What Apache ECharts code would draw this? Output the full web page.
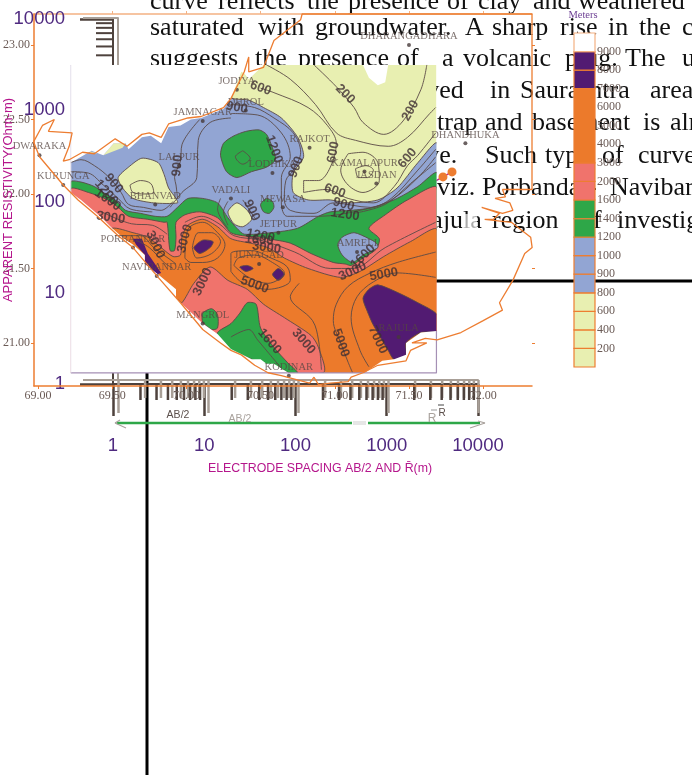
<!DOCTYPE html>
<html><head><meta charset="utf-8">
<style>html,body{margin:0;padding:0;background:#fff}#c{width:692px;height:775px}</style>
<script src="https://cdn.jsdelivr.net/npm/echarts@6/dist/echarts.min.js"></script>
</head><body><div id="c"></div>
<script>
// ---------- tick labels ----------
const lonTicks=[69,69.5,70,70.5,71,71.5,72];
const latTicks=[21,21.5,22,22.5,23];
const logMinor=[2,3,4,5,6,7,8,9,20,30,40,50,60,70,80,90,200,300,400,500,600,700,800,900,2000,3000,4000,5000,6000,7000,8000,9000];
const levels=[200,400,600,800,900,1000,1200,1400,1600,2000,3000,4000,5000,6000,7000,8000,9000];
// colour bar bands: [from level index, to level index]
const bandYellow=[[0,1],[1,2],[2,3],[3,4]];
const bandBlue=[[4,5],[5,6],[6,7]];
const bandGreen=[[7,8],[8,9]];
const bandSalmon=[[9,10],[10,11]];
const bandOrange=[[11,15]];
const bandPurple=[[15,16],[16,17]];
const bandWhite=[[17,18]];
// ---------- towns ----------
const townNames=['JODIYA','DHROL','JAMNAGAR','DWARAKA','KURUNGA','LALPUR','BHANVAD','VADALI','LODHIKA','RAJKOT','KAMALAPUR','JASDAN','MEWASA','JETPUR','AMRELI','JUNAGAD','PORBANDAR','NAVIBANDAR','MANGROL','KODINAR','RAJULA','DHARANGADHARA','DHANDHUKA'];
const townLon=[70.34,70.40,70.11,69.01,69.17,69.95,69.79,70.30,70.58,70.83,71.20,71.28,70.65,70.62,71.15,70.49,69.64,69.80,70.11,70.69,71.43,71.50,71.88];
const townLat=[22.70,22.56,22.49,22.26,22.06,22.19,21.93,21.97,22.14,22.31,22.15,22.07,21.91,21.74,21.61,21.53,21.64,21.45,21.13,20.78,21.04,23.00,22.34];
// ---------- contour labels: lon, lat, value, angle ----------
const contourLabels=[[70.50,22.71,600,-20],[71.07,22.67,200,-45],[71.51,22.56,200,60],[70.99,22.28,600,80],[71.49,22.24,600,50],[71.00,22.02,600,-20],[71.06,21.93,900,-15],[71.07,21.86,1200,-8],[70.59,22.30,1200,-70],[70.74,22.18,900,70],[70.44,21.89,900,-65],[69.94,22.19,900,85],[70.34,22.58,900,-10],[69.51,22.07,900,-50],[69.46,22.01,1200,-50],[69.47,21.96,1600,-35],[69.49,21.84,3000,-8],[69.79,21.66,3000,-65],[69.99,21.70,3000,75],[70.11,21.41,3000,65],[70.46,21.39,5000,-20],[70.50,21.72,1200,-10],[70.49,21.69,1600,-5],[70.54,21.64,3000,-8],[71.19,21.58,1600,45],[71.12,21.48,3000,25],[71.33,21.46,5000,10],[70.56,21.01,1600,-50],[70.79,21.01,3000,-50],[71.04,21.00,5000,-70],[71.29,21.02,7000,-65]];
// ---------- colour regions (lon, lat) ----------
const mapRect=[[69.221,22.866],[71.685,22.866],[71.685,20.799],[69.221,20.799]];
const blueRegion=[[69.22,22.87],[70.30,22.87],[70.30,22.65],[70.42,22.63],[70.52,22.58],[70.64,22.51],[70.75,22.38],[70.79,22.25],[70.72,22.14],[70.72,22.01],[70.82,21.96],[70.97,21.96],[71.09,21.94],[71.29,21.96],[71.42,22.04],[71.56,22.21],[71.69,22.34],[71.69,21.56],[69.22,21.56]];
const greenRegion=[[69.22,22.08],[69.29,22.08],[69.38,22.05],[69.44,22.01],[69.52,21.96],[69.59,21.89],[69.69,21.87],[69.79,21.85],[69.87,21.85],[69.94,21.91],[70.01,21.97],[70.11,21.97],[70.21,21.94],[70.28,21.84],[70.34,21.77],[70.39,21.73],[70.57,21.74],[70.75,21.77],[70.89,21.85],[70.97,21.88],[71.11,21.89],[71.26,21.91],[71.42,21.97],[71.56,22.05],[71.69,22.14],[71.69,21.42],[69.22,21.42]];
const salmonRegion=[[69.22,22.03],[69.34,22.01],[69.47,21.96],[69.54,21.91],[69.61,21.85],[69.74,21.83],[69.85,21.81],[69.87,21.81],[69.89,21.62],[69.92,21.62],[69.93,21.71],[69.93,21.81],[69.99,21.86],[70.09,21.88],[70.21,21.84],[70.30,21.74],[70.38,21.72],[70.50,21.71],[70.55,21.70],[70.70,21.67],[70.84,21.60],[70.99,21.54],[71.07,21.53],[71.11,21.52],[71.19,21.57],[71.28,21.63],[71.30,21.70],[71.23,21.77],[71.34,21.86],[71.49,21.96],[71.69,22.04],[71.69,20.80],[69.22,20.80]];
const orangeRegion=[[69.50,21.77],[69.64,21.74],[69.74,21.71],[69.83,21.64],[69.91,21.58],[69.96,21.59],[69.97,21.71],[70.01,21.79],[70.11,21.83],[70.21,21.78],[70.30,21.70],[70.43,21.67],[70.55,21.64],[70.66,21.57],[70.82,21.50],[71.04,21.44],[71.17,21.48],[71.33,21.58],[71.51,21.68],[71.69,21.76],[71.69,20.80],[69.43,20.80],[69.43,21.69]];
const salmonPatch=[[70.16,21.51],[70.05,21.40],[69.97,21.27],[69.94,21.29],[69.90,20.80],[70.92,20.80],[70.89,20.97],[70.84,21.05],[70.66,21.17],[70.52,21.26],[70.41,21.36],[70.28,21.42]];
const greenSouth=[[70.41,21.27],[70.47,21.26],[70.50,21.10],[70.59,20.97],[70.68,20.87],[70.75,20.80],[70.69,20.80],[70.21,20.99],[70.21,21.07],[70.30,21.13],[70.36,21.20]];
const greenMangrol=[[70.11,21.20],[70.17,21.23],[70.21,21.19],[70.21,21.10],[70.17,21.09],[70.11,21.14]];
const greenLodhika=[[70.23,22.26],[70.25,22.34],[70.32,22.39],[70.40,22.42],[70.49,22.43],[70.54,22.40],[70.58,22.31],[70.60,22.23],[70.54,22.18],[70.44,22.15],[70.34,22.11],[70.27,22.15]];
const greenMewasa=[[70.50,21.93],[70.54,21.97],[70.58,21.95],[70.59,21.91],[70.56,21.87],[70.52,21.88]];
const yellowBhanvad=[[69.54,22.11],[69.61,22.18],[69.70,22.24],[69.81,22.21],[69.85,22.13],[69.88,22.04],[69.93,21.97],[69.94,21.94],[69.78,21.94],[69.64,21.97],[69.57,22.04]];
const yellowVadali=[[70.28,21.88],[70.34,21.94],[70.41,21.89],[70.44,21.83],[70.38,21.78],[70.32,21.80]];
const yellowCoastA=[[69.51,22.34],[69.59,22.34],[69.57,22.31],[69.44,22.26]];
const yellowCoastB=[[69.34,22.29],[69.40,22.27],[69.36,22.27]];
const blueAmreli=[[71.02,21.66],[71.05,21.71],[71.13,21.74],[71.23,21.70],[71.28,21.67],[71.29,21.64],[71.19,21.59],[71.12,21.54],[71.05,21.59]];
const purpleRajula=[[71.19,21.30],[71.23,21.36],[71.29,21.39],[71.42,21.34],[71.56,21.27],[71.69,21.19],[71.69,21.08],[71.58,21.07],[71.48,21.00],[71.48,20.92],[71.40,20.89],[71.36,20.95],[71.26,21.12],[71.22,21.21]];
const purplePorbandar=[[69.64,21.70],[69.70,21.70],[69.74,21.60],[69.83,21.47],[69.80,21.46],[69.72,21.53],[69.72,21.59],[69.66,21.66]];
const purpleLens=[[70.05,21.64],[70.11,21.69],[70.18,21.68],[70.16,21.64],[70.09,21.60]];
const purpleJunagad=[[70.36,21.51],[70.41,21.52],[70.45,21.50],[70.40,21.48]];
const purpleDiamond=[[70.58,21.46],[70.62,21.50],[70.66,21.46],[70.62,21.42]];
const maskNW=[[69.221,22.866],[69.221,22.21],[69.36,22.29],[69.44,22.26],[69.51,22.34],[69.59,22.34],[69.61,22.30],[69.70,22.38],[69.76,22.39],[69.83,22.34],[69.88,22.45],[69.96,22.46],[70.03,22.50],[70.10,22.51],[70.25,22.57],[70.30,22.64],[70.37,22.82],[70.39,22.81],[70.42,22.77],[70.52,22.866]];
const maskNotch=[[71.19,22.866],[71.23,22.78],[71.29,22.73],[71.34,22.75],[71.36,22.866]];
const maskSW=[[69.221,22.01],[69.29,21.96],[69.43,21.84],[69.50,21.77],[69.58,21.70],[69.64,21.66],[69.72,21.59],[69.72,21.53],[69.81,21.46],[69.93,21.36],[69.93,21.30],[70.11,21.13],[70.21,21.06],[70.30,20.96],[70.44,20.89],[70.50,20.89],[70.54,20.86],[70.59,20.86],[70.69,20.799],[69.221,20.799]];
const maskSE=[[71.20,20.799],[71.32,20.88],[71.40,20.89],[71.48,20.92],[71.48,21.00],[71.58,21.07],[71.685,21.08],[71.685,20.799]];
// ---------- contour lines (lon, lat) ----------
const contourA=[[70.50,22.71],[70.59,22.68],[70.82,22.58],[70.95,22.46],[71.01,22.34],[70.97,22.18],[70.89,22.09],[70.79,22.09],[70.79,22.01],[70.94,22.03],[71.09,21.97],[71.26,21.94],[71.40,22.05],[71.49,22.19],[71.56,22.26],[71.68,22.41]];
const contourB=[[70.86,22.866],[71.01,22.72],[71.13,22.58],[71.19,22.48],[71.33,22.40],[71.46,22.49],[71.58,22.70],[71.62,22.866]];
const contourC=[[70.54,22.866],[70.70,22.77],[70.87,22.60],[71.01,22.41],[71.14,22.36],[71.36,22.32],[71.49,22.38],[71.64,22.54],[71.68,22.58]];
const ringKamalapurOuter=[[71.09,22.27],[71.19,22.28],[71.29,22.21],[71.30,22.09],[71.19,22.01],[71.09,22.06],[71.04,22.16],[71.09,22.27]];
const ringKamalapurInner=[[71.14,22.17],[71.21,22.19],[71.26,22.16],[71.22,22.11],[71.16,22.11],[71.14,22.17]];
const contourD=[[70.30,22.60],[70.46,22.58],[70.59,22.51],[70.72,22.41],[70.77,22.28],[70.72,22.16],[70.67,22.09],[70.66,21.96],[70.70,21.89],[70.86,21.87],[70.99,21.94],[71.24,21.91],[71.38,21.97],[71.56,22.16],[71.68,22.30]];
const contourE=[[70.30,22.54],[70.48,22.53],[70.64,22.41],[70.70,22.25],[70.64,22.11],[70.64,21.94],[70.68,21.85],[70.89,21.85],[71.17,21.89],[71.38,21.96],[71.56,22.11],[71.68,22.25]];
const contourF=[[70.09,22.50],[69.97,22.33],[69.96,22.22],[69.92,22.11],[69.93,22.06],[69.94,21.97]];
const contourG=[[70.30,22.51],[70.16,22.48],[70.08,22.36],[70.07,22.11],[69.97,22.01],[69.89,21.91]];
const contourH=[[69.22,22.21],[69.29,22.23],[69.38,22.19],[69.48,22.11],[69.56,22.01],[69.61,21.93],[69.71,21.91],[69.83,21.89],[69.91,21.95]];
const contourI=[[69.22,22.15],[69.34,22.14],[69.44,22.06],[69.54,21.97],[69.62,21.90],[69.77,21.88]];
const contourJ=[[71.13,21.87],[71.34,21.93],[71.51,22.07],[71.68,22.21]];
const ringLodhika=[[70.38,22.29],[70.43,22.24],[70.38,22.20],[70.33,22.25],[70.38,22.29]];
const ringBhanvad=[[69.62,22.06],[69.69,22.09],[69.76,22.07],[69.78,22.01],[69.72,22.00],[69.64,22.01],[69.62,22.06]];
const vadaliA=[[70.23,21.97],[70.21,21.90],[70.28,21.77]];
const vadaliB=[[70.28,21.95],[70.25,21.88],[70.28,21.79]];
const vadaliC=[[70.38,21.96],[70.46,21.84]];
const westA=[[69.52,21.72],[69.69,21.72],[69.78,21.64],[69.89,21.56],[69.93,21.53]];
const westB=[[69.66,21.69],[69.75,21.64],[69.85,21.54],[69.91,21.50]];
const ringLensOuter=[[69.99,21.57],[70.01,21.76],[70.11,21.81],[70.21,21.74],[70.26,21.66],[70.21,21.57],[70.11,21.54],[70.03,21.54],[69.99,21.57]];
const ringLensMid=[[70.04,21.64],[70.08,21.74],[70.17,21.74],[70.23,21.68],[70.17,21.60],[70.07,21.57],[70.04,21.64]];
const ringJunagadOuter=[[70.30,21.48],[70.37,21.41],[70.55,21.36],[70.70,21.42],[70.68,21.51],[70.57,21.57],[70.44,21.62],[70.30,21.60],[70.30,21.48]];
const ringJunagadMid=[[70.32,21.52],[70.42,21.44],[70.55,21.40],[70.66,21.47],[70.58,21.54],[70.46,21.59],[70.35,21.57],[70.32,21.52]];
const contourK=[[71.68,21.61],[71.42,21.54],[71.24,21.47],[71.09,21.38],[71.01,21.26],[70.99,21.15],[71.04,21.00],[71.09,20.87],[71.12,20.80]];
const contourL=[[71.68,21.44],[71.42,21.47],[71.26,21.41],[71.15,21.31],[71.11,21.17],[71.17,20.95],[71.23,20.84]];
const contourM=[[70.76,21.40],[70.70,21.31],[70.85,21.15],[70.89,21.02],[70.91,20.82]];
const contourN=[[70.30,21.04],[70.42,21.09],[70.48,21.02],[70.64,20.83]];
const contourO=[[69.43,21.88],[69.63,21.80],[69.77,21.79],[69.87,21.73]];
const contourP=[[69.99,21.81],[70.10,21.85],[70.22,21.80],[70.32,21.72],[70.50,21.69],[70.73,21.61],[70.97,21.50],[71.12,21.50],[71.34,21.64],[71.68,21.81]];
// ---------- coast outline ----------
const coastLine=[[68.97,22.35],[69.01,22.25],[69.17,22.06],[69.27,21.96],[69.40,21.85],[69.54,21.72],[69.64,21.64],[69.81,21.44],[69.96,21.27],[70.11,21.09],[70.23,21.00],[70.30,20.95],[70.37,20.92],[70.46,20.85],[70.55,20.80],[70.64,20.78],[70.83,20.73],[70.86,20.77],[70.89,20.72],[70.97,20.73],[71.09,20.74],[71.11,20.77],[71.19,20.80],[71.29,20.85],[71.48,20.88],[71.51,20.95],[71.62,21.00],[71.52,21.00],[71.61,21.03],[71.69,21.02],[71.85,21.07],[72.00,21.15],[72.13,21.22],[72.11,21.27],[72.20,21.42],[72.28,21.60],[72.33,21.64],[72.32,21.71],[72.19,21.81],[72.01,21.83],[72.07,21.83],[72.11,21.87],[71.99,21.91],[72.13,21.87],[72.20,21.89],[72.18,21.94],[72.08,21.97],[72.15,21.98],[72.13,22.03],[72.329,22.03],[72.329,23.208],[70.78,23.208],[70.77,23.17],[70.59,23.03],[70.52,22.85],[70.42,22.82],[70.42,22.92],[70.39,22.82],[70.30,22.64],[70.25,22.58],[70.10,22.52],[70.01,22.51],[69.88,22.47],[69.83,22.38],[69.75,22.41],[69.70,22.40],[69.60,22.32],[69.52,22.37],[69.38,22.27],[69.30,22.28],[69.21,22.23],[69.17,22.22],[69.21,22.32],[69.23,22.41],[69.07,22.42],[69.11,22.50],[69.03,22.46],[68.97,22.35]];
// ---------- curve fragment and arrow on log axes ----------
const curveX=[2800,4130,5190];
const curveY=[150,186,211];
const arrowLeft=[[1.1,0.374],[416,0.374]];
const arrowRight=[[623,0.374],[14960,0.374]];
// ---------- body text: words with their left edge ----------
const line1=[['curve',150],['reflects',218],['the',307],['presence',348],['of',447],['clay',478],['and',533],['weathered',578]];
const line2=[['saturated',150],['with',258],['groundwater.',315],['A',465],['sharp',492],['rise',560],['in',608],['the',639],['c',682]];
const line3=[['suggests',150],['the',255],['presence',298],['of',397],['a',442],['volcanic',463],['plug.',565],['The',625],['u',682]];
const line4=[['observed',370],['in',490],['Saurashtra',520],['area',650]];
const line5=[['trap',437],['and',485],['basement',532],['is',643],['alr',670]];
const line6=[['curve.',393],['Such',485],['type',545],['of',602],['curves',638]];
const line7=[['viz.',437],['Porbandar-',482],['Navibar',610]];
const line8=[['Rajula',414],['region',492],['of',580],['investig',617]];
const lineBaselines=[9,35,66,98,130,163,195,228];

const C={yellow:'#e8efb1',blue:'#92a5d3',green:'#2ea748',salmon:'#f0736c',orange:'#ec7a2b',purple:'#521b72',white:'#ffffff',line:'#5a4a46',coast:'#ed7d31',peach:'#f4b183',brownAxis:'#4e423d',grayAxis:'#a89f97',violet:'#4f2a80',magenta:'#b5168c',labelGray:'#6a5a55'};

function region(pts,fill,stroke){
  return {type:'custom',xAxisIndex:0,yAxisIndex:0,z:5,silent:true,clip:false,data:pts,
    renderItem:function(p,api){
      if(p.dataIndex!==0) return;
      const a=api.coord([mapRect[0][0],mapRect[0][1]]),b=api.coord([mapRect[2][0],mapRect[2][1]]);
      return {type:'polygon',shape:{points:pts.map(q=>api.coord(q)),smooth:stroke?0.25:0},
        clipPath:{type:'rect',shape:{x:a[0],y:a[1],width:b[0]-a[0],height:b[1]-a[1]}},
        style:{fill:fill,stroke:stroke?C.line:null,lineWidth:stroke?0.9:0}};
    }};
}
function contour(pts){
  return {type:'line',xAxisIndex:0,yAxisIndex:0,z:5,silent:true,data:pts,showSymbol:false,symbol:'none',smooth:0.35,lineStyle:{color:C.line,width:0.9},clip:false};
}
function minorTicks(xi,yi,isX,len,color,w){
  return {type:'custom',xAxisIndex:xi,yAxisIndex:yi,z:1,silent:true,clip:false,
    data:logMinor.map(v=>isX?[v,1]:[1,v]),
    renderItem:function(p,api){
      const c=api.coord([api.value(0),api.value(1)]);
      return {type:'line',shape:isX?{x1:c[0],y1:c[1],x2:c[0],y2:c[1]+len}:{x1:c[0],y1:c[1],x2:c[0]-len,y2:c[1]},style:{stroke:color,lineWidth:w}};
    }};
}
function bars(list,fill,stroke){
  return {type:'custom',xAxisIndex:4,yAxisIndex:4,z:6,silent:true,clip:false,data:list,
    renderItem:function(p,api){
      const a=api.coord([0,api.value(1)]),b=api.coord([1,api.value(0)]);
      return {type:'rect',shape:{x:a[0],y:a[1],width:b[0]-a[0],height:b[1]-a[1]},style:{fill:fill,stroke:stroke,lineWidth:1.2}};
    }};
}
const serif='"Liberation Serif"',sans='"Liberation Sans"';
const words=[];
[line1,line2,line3,line4,line5,line6,line7,line8].forEach((l,i)=>l.forEach(w=>{
  words.push({type:'text',z:-1,x:w[1],y:lineBaselines[i]+6,style:{text:w[0],fill:'#111',font:'26px '+serif,verticalAlign:'bottom',align:'left'}});
}));
const gline=(x1,y1,x2,y2,c,w,z)=>({type:'line',z:z,shape:{x1,y1,x2,y2},style:{stroke:c,lineWidth:w}});
const gtext=(x,y,t,c,font,extra)=>Object.assign({type:'text',z:20,x,y,style:{text:t,fill:c,font:font,align:'center',verticalAlign:'middle'}},extra||{});

const chart=echarts.init(document.getElementById('c'),null,{renderer:'canvas',width:692,height:775});
const hide={show:false};
chart.setOption({
  animation:false,backgroundColor:'#fff',
  grid:[
    {left:32,top:14,width:500,height:372},
    {left:113,top:19,width:365,height:365},
    {left:118,top:18,width:360,height:362},
    {left:574,top:33,width:21,height:334}
  ],
  xAxis:[
    {type:'value',gridIndex:0,min:68.973,max:72.329,position:'bottom',splitLine:hide,z:3,
      axisLine:{onZero:false,lineStyle:{color:C.coast,width:1.5}},
      axisTick:{length:3,lineStyle:{color:C.coast},customValues:lonTicks},
      axisLabel:{customValues:lonTicks,formatter:v=>v.toFixed(2),color:C.labelGray,margin:4,fontFamily:serif,fontSize:12}},
    {type:'value',gridIndex:0,min:68.973,max:72.329,position:'top',splitLine:hide,
      axisLine:{onZero:false,lineStyle:{color:C.peach,width:1.5}},
      axisTick:{length:3,lineStyle:{color:C.peach},customValues:lonTicks},axisLabel:hide},
    {type:'log',gridIndex:1,min:1,max:10000,logBase:10,splitLine:hide,minorTick:hide,
      axisLine:{onZero:false,lineStyle:{color:C.brownAxis,width:2}},
      axisTick:{length:32,lineStyle:{color:C.brownAxis,width:2.5}},
      axisLabel:{formatter:v=>String(v),color:C.violet,fontFamily:sans,fontSize:18.5,margin:52}},
    {type:'log',gridIndex:2,min:1,max:10000,logBase:10,splitLine:hide,minorTick:hide,
      axisLine:{onZero:false,lineStyle:{color:C.grayAxis,width:2}},
      axisTick:{length:33,lineStyle:{color:C.grayAxis,width:2.5}},axisLabel:hide},
    {type:'value',gridIndex:3,min:0,max:1,show:false}
  ],
  yAxis:[
    {type:'value',gridIndex:0,min:20.711,max:23.208,position:'left',splitLine:hide,z:3,
      axisLine:{onZero:false,lineStyle:{color:C.coast,width:1.5}},
      axisTick:{length:3,lineStyle:{color:C.coast},customValues:latTicks},
      axisLabel:{customValues:latTicks,formatter:v=>v.toFixed(2),color:C.labelGray,margin:4,fontFamily:serif,fontSize:12}},
    {type:'value',gridIndex:0,min:20.711,max:23.208,position:'right',splitLine:hide,
      axisLine:{show:false},axisTick:{length:3,lineStyle:{color:C.coast},customValues:latTicks},axisLabel:hide},
    {type:'log',gridIndex:1,min:1,max:10000,logBase:10,splitLine:hide,minorTick:hide,
      axisLine:{onZero:false,lineStyle:{color:C.brownAxis,width:2}},
      axisTick:{length:33,lineStyle:{color:C.brownAxis,width:2.5}},
      axisLabel:{formatter:v=>String(v),color:C.violet,fontFamily:sans,fontSize:18.5,margin:48}},
    {type:'log',gridIndex:2,min:1,max:10000,logBase:10,splitLine:hide,minorTick:hide,
      axisLine:{onZero:false,lineStyle:{color:C.grayAxis,width:2}},
      axisTick:{length:35,lineStyle:{color:C.grayAxis,width:2}},axisLabel:hide},
    {type:'value',gridIndex:3,min:0,max:18,interval:1,position:'right',splitLine:hide,
      axisLine:{show:false},axisTick:{show:false},
      axisLabel:{formatter:v=>(v>=1&&v<=levels.length)?String(levels[v-1]):'',color:C.labelGray,margin:2,fontFamily:serif,fontSize:12,showMinLabel:false,showMaxLabel:false}}
  ],
  graphic:{elements:[
    gline(147,281,147,775,'#000',3,-2),
    gline(147,281,692,281,'#000',3,-2),
    ...words,
    {type:'rect',z:-1,shape:{x:462,y:214,width:15,height:17},style:{fill:'rgba(255,255,255,.65)'}},
    gtext(583,15,'Meters','#6c3e93','10.5px '+serif),
    gtext(8,200,'APPARENT RESISTIVITY(Ohm-m)',C.magenta,'13px '+sans,{rotation:Math.PI/2}),
    gtext(320,468,'ELECTRODE SPACING AB/2 AND R\u0304(m)',C.magenta,'13px '+sans,{scaleX:0.95}),
    gtext(178,415,'AB/2','#5b4f4b','10.5px '+sans),
    gtext(240,419,'AB/2','#a9a29d','10.5px '+sans),
    gtext(432,419,'R','#a9a29d','12px '+sans),
    gtext(442,413,'R','#5b4f4b','10px '+sans),
    gline(431,410,437,410,'#999',1,20),
    gline(438,405,444,405,'#444',1,20),
    gline(115,423,126,428,'#a9a29d',1.2,20),
    gline(115,423,120,420,'#a9a29d',1.2,20),
    gline(485,423,470,428,'#a9a29d',1.2,20),
    gline(485,423,478,421,'#a9a29d',1.2,20),
    {type:'rect',z:20,shape:{x:353,y:421,width:13,height:4},style:{fill:'#e6e6e6'}}
  ]},
  series:[
    minorTicks(3,3,true,18,C.grayAxis,2.5),
    minorTicks(2,2,true,16,C.brownAxis,2.5),
    minorTicks(2,2,false,17,C.brownAxis,2),
    {type:'line',xAxisIndex:2,yAxisIndex:2,z:4,silent:true,data:curveX.map((x,i)=>[x,curveY[i]]),symbol:'circle',symbolSize:9,itemStyle:{color:C.coast},lineStyle:{color:'#c2268e',width:1.5}},
    // base
    region(mapRect,C.yellow),
    region(blueRegion,C.blue,true),
    region(yellowCoastA,C.yellow),region(yellowCoastB,C.yellow),
    region(greenRegion,C.green,true),
    region(salmonRegion,C.salmon,true),
    region(orangeRegion,C.orange,true),
    region(salmonPatch,C.salmon,true),
    region(greenSouth,C.green,true),region(greenMangrol,C.green,true),
    region(greenLodhika,C.green,true),region(greenMewasa,C.green,true),
    region(yellowBhanvad,C.yellow,true),region(yellowVadali,C.yellow,true),
    region(blueAmreli,C.blue,true),
    region(purpleRajula,C.purple,true),region(purplePorbandar,C.purple),
    region(purpleLens,C.purple,true),region(purpleJunagad,C.purple,true),region(purpleDiamond,C.purple,true),
    ...[contourA,contourB,contourC,ringKamalapurOuter,ringKamalapurInner,contourD,contourE,contourF,contourG,contourH,contourI,contourJ,ringLodhika,ringBhanvad,vadaliA,vadaliB,vadaliC,westA,westB,ringLensOuter,ringLensMid,ringJunagadOuter,ringJunagadMid,contourK,contourL,contourM,contourN,contourO,contourP].map(contour),
    region(maskNW,C.white),region(maskNotch,C.white),region(maskSW,C.white),region(maskSE,C.white),
    {type:'line',xAxisIndex:0,yAxisIndex:0,z:5,silent:true,symbol:'none',data:[mapRect[3],mapRect[2],[mapRect[2][0],21.08]],lineStyle:{color:'#a590b5',width:1.2},clip:false},
    {type:'line',xAxisIndex:0,yAxisIndex:0,z:5,silent:true,symbol:'none',data:[mapRect[3],[mapRect[3][0],22.866]],lineStyle:{color:'#ece4ee',width:1},clip:false},
    {type:'scatter',xAxisIndex:0,yAxisIndex:0,z:6,silent:true,symbolSize:0,clip:false,
      data:contourLabels.map(d=>({value:[d[0],d[1]],label:{show:true,position:'inside',formatter:String(d[2]),rotate:d[3],color:'#3f3033',fontFamily:sans,fontWeight:'bold',fontSize:13}}))},
    {type:'scatter',xAxisIndex:0,yAxisIndex:0,z:7,silent:true,symbolSize:4,clip:false,itemStyle:{color:'#46393a'},
      data:townNames.map((n,i)=>({value:[townLon[i],townLat[i]],name:n})),
      label:{show:true,position:'top',distance:1,formatter:'{b}',color:'rgba(85,70,66,.95)',fontFamily:serif,fontSize:10.5}},
    {type:'line',xAxisIndex:0,yAxisIndex:0,z:8,silent:true,symbol:'none',data:coastLine,lineStyle:{color:C.coast,width:1.3},clip:false},
    {type:'line',xAxisIndex:2,yAxisIndex:2,z:9,silent:true,symbol:'none',data:arrowLeft,lineStyle:{color:C.green,width:2.5},clip:false},
    {type:'line',xAxisIndex:2,yAxisIndex:2,z:9,silent:true,symbol:'none',data:arrowRight,lineStyle:{color:C.green,width:2.5},clip:false},
    bars(bandYellow,C.yellow,C.coast),bars(bandBlue,C.blue,C.coast),bars(bandGreen,C.green,'#d9863a'),bars(bandSalmon,C.salmon,C.coast),bars(bandOrange,C.orange,C.coast),bars(bandPurple,C.purple,C.coast),bars(bandWhite,C.white,C.peach)
  ]
});
</script></body></html>
